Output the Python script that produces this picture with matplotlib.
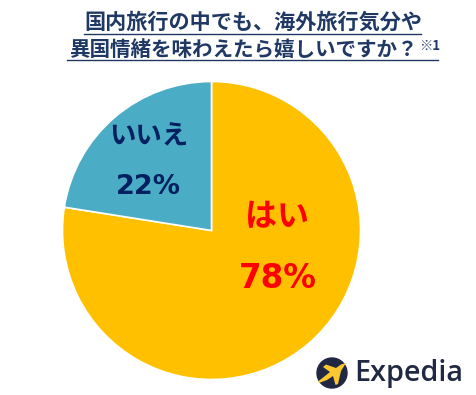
import matplotlib
matplotlib.use("Agg")
import matplotlib.pyplot as plt
from matplotlib.patches import Circle, Polygon

plt.rcParams['font.family'] = ['Noto Sans CJK JP', 'DejaVu Sans']

labels = ["はい", "いいえ"]
percents = ["78%", "22%"]
# slice sizes as drawn in the picture
sizes = [77.5, 22.5]
colors = ["#FFC000", "#4BACC6"]
label_colors = ["#FF0000", "#002060"]

W, H = 477, 395
fig = plt.figure(figsize=(W / 100, H / 100), dpi=100)

# pie
cx, cy, r = 211.5, 230.5, 149
pie_ax = fig.add_axes([(cx - r) / W, 1 - (cy + r) / H, 2 * r / W, 2 * r / H])
pie_ax.pie(sizes, colors=colors, startangle=90, counterclock=False, radius=1,
           wedgeprops=dict(edgecolor="white", linewidth=1.2))
pie_ax.set_xlim(-1, 1)
pie_ax.set_ylim(-1, 1)

# overlay in pixel coordinates for the text
top = fig.add_axes([0, 0, 1, 1])
top.set_xlim(0, W)
top.set_ylim(H, 0)
top.axis("off")
top.patch.set_alpha(0)

# title
navy = "#1F3864"
top.text(253, 22.5, "国内旅行の中でも、海外旅行気分や", fontsize=15.2, color=navy,
         ha="center", va="center", fontweight="bold")
top.text(243, 49.5, "異国情緒を味わえたら嬉しいですか？", fontsize=14.8, color=navy,
         ha="center", va="center", fontweight="bold")
top.text(429.5, 46, "※1", fontsize=9.5, color=navy, ha="center", va="center", fontweight="bold")
top.plot([84, 421], [33.5, 33.5], color=navy, lw=1)
top.plot([67, 438], [59.5, 59.5], color=navy, lw=1)

# slice labels
top.text(277, 217, labels[0], fontsize=23, color=label_colors[0], ha="center",
         va="center", fontweight="bold")
top.text(278, 278, percents[0], fontsize=23.5, color=label_colors[0], ha="center",
         va="center", fontweight="bold", family="DejaVu Sans")
top.text(149, 137, labels[1], fontsize=19, color=label_colors[1], ha="center",
         va="center", fontweight="bold")
top.text(148.5, 187, percents[1], fontsize=19.5, color=label_colors[1], ha="center",
         va="center", fontweight="bold", family="DejaVu Sans")

# logo
dark = "#202843"
top.add_patch(Circle((332, 373), 15, color=dark))
top.add_patch(Polygon([(346, 363), (341, 371), (338, 384), (335.5, 385), (333, 376),
                       (327, 380), (319, 383), (318, 381.5), (325, 376), (330, 372),
                       (323, 367), (326, 364.5), (336, 368), (341, 364.5)],
                      closed=True, color="#FDC82F", lw=0))
top.text(354, 374, "Expedia", fontsize=20.7, color=dark, ha="left", va="center",
         family="Open Sans", fontweight="semibold")

fig.savefig("out.png", dpi=100)
